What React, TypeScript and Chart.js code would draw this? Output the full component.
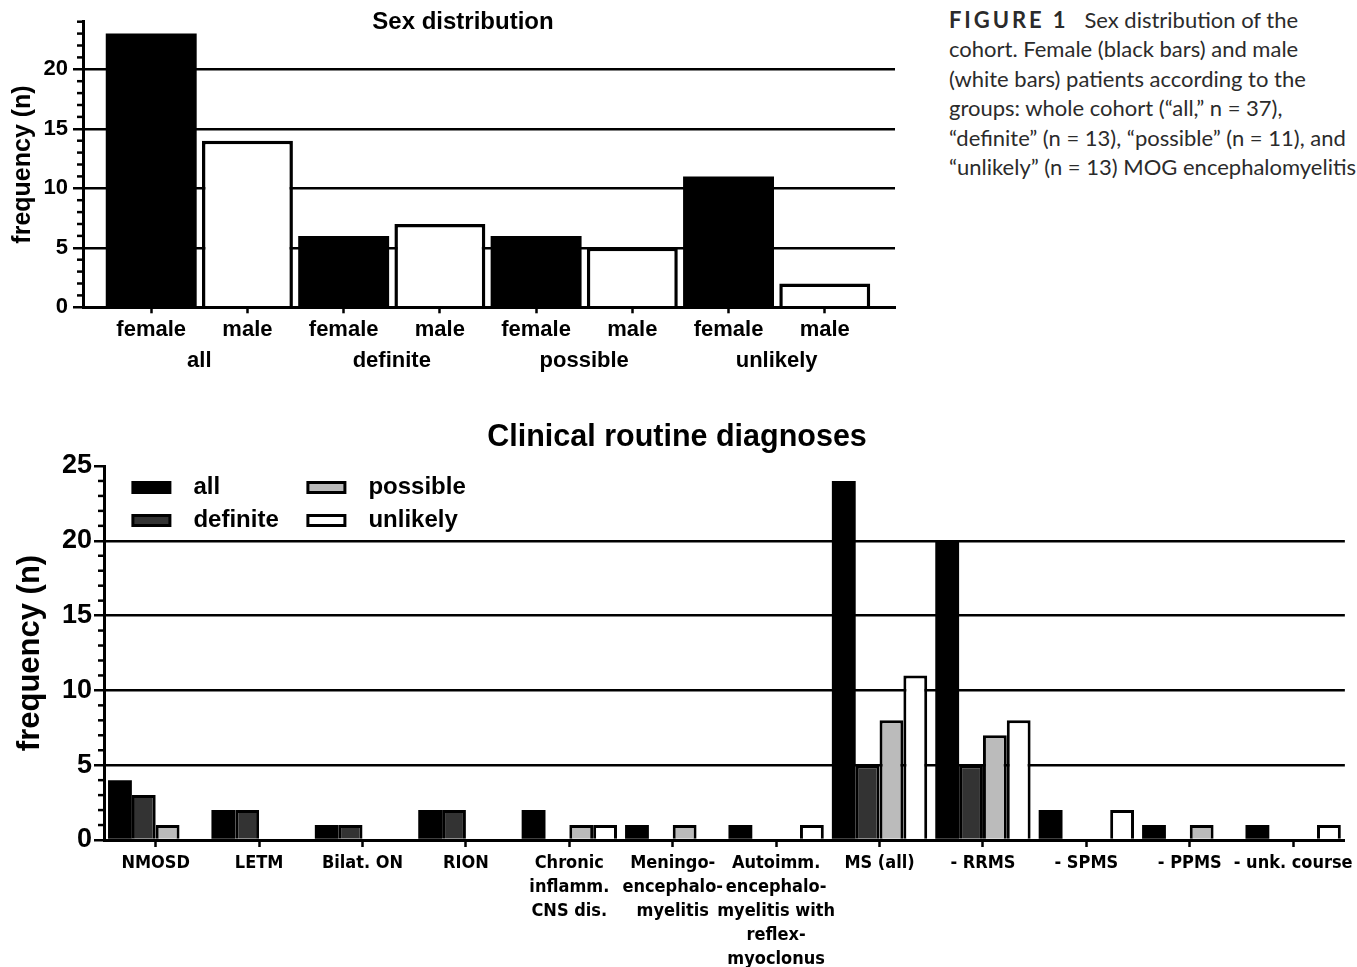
import React, { useEffect, useRef } from 'react';
import { Chart, registerables } from 'chart.js';

Chart.register(...registerables);

// ---------- data: top chart ----------
const sexGroups = ['all', 'definite', 'possible', 'unlikely'];
const sexLabels = ['female', 'male'];
const femaleCounts = [23, 6, 6, 11];
const maleCounts = [14, 7, 5, 2];

// ---------- data: bottom chart ----------
const diagnosisLabels: (string | string[])[] = [
  'NMOSD',
  'LETM',
  'Bilat. ON',
  'RION',
  ['Chronic', 'inflamm.', 'CNS dis.'],
  ['Meningo-', 'encephalo-', 'myelitis'],
  ['Autoimm.', 'encephalo-', 'myelitis with', 'reflex-', 'myoclonus'],
  'MS (all)',
  '- RRMS',
  '- SPMS',
  '- PPMS',
  '- unk. course',
];
const diagSeriesNames = ['all', 'definite', 'possible', 'unlikely'];
const diagAll = [4, 2, 1, 2, 2, 1, 1, 24, 20, 2, 1, 1];
const diagDefinite = [3, 2, 1, 2, 0, 0, 0, 5, 5, 0, 0, 0];
const diagPossible = [1, 0, 0, 0, 1, 1, 0, 8, 7, 0, 1, 0];
const diagUnlikely = [0, 0, 0, 0, 1, 0, 1, 11, 8, 2, 0, 1];
const diagSeries = [diagAll, diagDefinite, diagPossible, diagUnlikely];
const diagColors = ['#000000', '#333333', '#bbbbbb', '#ffffff'];
const diagBorderWidths = [0, 3, 3, 3];

const SANS = "'Liberation Sans', Arial, Helvetica, sans-serif";
const NARROW = "'DejaVu Sans Condensed', 'Liberation Sans Narrow', sans-serif";

const minorTicks = {
  id: 'minorTicks',
  afterDraw(chart: any, _args: any, opts: any) {
    const s = chart.scales.y;
    const ctx = chart.ctx;
    ctx.save();
    ctx.strokeStyle = '#000';
    ctx.lineWidth = opts.width || 2.5;
    for (let v = s.min; v <= s.max; v += 1) {
      if (v % 5 === 0) continue;
      const y = s.getPixelForValue(v);
      ctx.beginPath();
      ctx.moveTo(s.right - (opts.length || 6), y);
      ctx.lineTo(s.right, y);
      ctx.stroke();
    }
    ctx.restore();
  },
};

const gridLegend = {
  id: 'gridLegend',
  afterDatasetsDraw(chart: any, _args: any, opts: any) {
    if (!opts || !opts.display) return;
    const { ctx, chartArea } = chart;
    ctx.save();
    chart.data.datasets.forEach((ds: any, i: number) => {
      const col = Math.floor(i / opts.rows);
      const row = i % opts.rows;
      const bx = chartArea.left + opts.colX[col];
      const cy = chartArea.top + opts.rowY[row];
      const bw = opts.border;
      ctx.fillStyle = '#000';
      ctx.fillRect(bx, cy - opts.boxH / 2, opts.boxW, opts.boxH);
      ctx.fillStyle = ds.backgroundColor;
      ctx.fillRect(bx + bw, cy - opts.boxH / 2 + bw, opts.boxW - 2 * bw, opts.boxH - 2 * bw);
      ctx.font = opts.font;
      ctx.textBaseline = 'middle';
      ctx.textAlign = 'left';
      ctx.fillStyle = '#000';
      ctx.fillText(ds.label, bx + opts.textGap, cy);
    });
    ctx.restore();
  },
};

function SexChart() {
  const ref = useRef<HTMLCanvasElement>(null);
  useEffect(() => {
    if (!ref.current) return;
    const xMin = -0.709;
    const xMax = 7.73;
    const chart = new Chart(ref.current, {
      type: 'bar',
      data: {
        datasets: [
          {
            label: 'female',
            data: femaleCounts.map((v, g) => ({ x: 2 * g, y: v })),
            backgroundColor: '#000',
            borderColor: '#000',
            borderWidth: 0,
            grouped: false,
            categoryPercentage: 1,
            barPercentage: 0.945,
            xAxisID: 'x',
            yAxisID: 'y',
          } as any,
          {
            label: 'male',
            data: maleCounts.map((v, g) => ({ x: 2 * g + 1, y: v })),
            backgroundColor: '#fff',
            borderColor: '#000',
            borderWidth: 3.5,
            grouped: false,
            categoryPercentage: 1,
            barPercentage: 0.945,
            xAxisID: 'x',
            yAxisID: 'y',
          } as any,
        ],
      },
      options: {
        animation: false,
        responsive: false,
        layout: { padding: { left: 31, right: 31, top: 0, bottom: 3.7 } },
        plugins: {
          legend: { display: false },
          tooltip: { enabled: false },
          title: {
            display: true,
            text: 'Sex distribution',
            color: '#000',
            font: { family: SANS, size: 24, weight: 'bold' },
            padding: { top: 8, bottom: -15.1 },
          },
          minorTicks: { length: 6, width: 2.5 },
        } as any,
        scales: {
          x: {
            type: 'linear',
            axis: 'x',
            position: 'bottom',
            offset: false,
            min: xMin,
            max: xMax,
            afterBuildTicks: (s: any) => {
              s.ticks = [0, 1, 2, 3, 4, 5, 6, 7].map((v) => ({ value: v }));
            },
            afterFit: (s: any) => {
              s.height = 38;
            },
            ticks: {
              callback: (_v: any, i: number) => sexLabels[i % 2],
              color: '#000',
              font: { family: SANS, size: 22, weight: 'bold' },
              padding: 3.5,
              autoSkip: false,
              maxRotation: 0,
              minRotation: 0,
            },
            grid: {
              offset: false,
              drawOnChartArea: false,
              tickLength: 6,
              tickWidth: 2.5,
              tickColor: '#000',
            },
            border: { color: '#000', width: 3 },
          },
          x2: {
            type: 'linear',
            axis: 'x',
            position: 'bottom',
            offset: false,
            min: xMin,
            max: xMax,
            afterBuildTicks: (s: any) => {
              s.ticks = sexGroups.map((_g, g) => ({ value: 2 * g + 0.5 }));
            },
            afterFit: (s: any) => {
              s.height = 36;
            },
            ticks: {
              callback: (_v: any, i: number) => sexGroups[i],
              color: '#000',
              font: { family: SANS, size: 22, weight: 'bold' },
              padding: 2.5,
              autoSkip: false,
              maxRotation: 0,
              minRotation: 0,
            },
            grid: { display: false, drawTicks: false },
            border: { display: false },
          },
          y: {
            type: 'linear',
            min: 0,
            max: 24,
            afterFit: (s: any) => {
              s.width = 52;
            },
            ticks: {
              stepSize: 1,
              autoSkip: false,
              callback: (v: any) => (v % 5 === 0 ? String(v) : ''),
              color: '#000',
              font: { family: SANS, size: 22, weight: 'bold' },
              padding: 5,
            },
            grid: {
              color: (c: any) => (c.tick && c.tick.value % 5 === 0 && c.tick.value > 0 ? '#000' : 'rgba(0,0,0,0)'),
              lineWidth: 2.5,
              tickLength: 10,
              tickWidth: 2.5,
              tickColor: (c: any) => (c.tick && c.tick.value % 5 === 0 ? '#000' : 'rgba(0,0,0,0)'),
            },
            border: { color: '#000', width: 3 },
            title: {
              display: true,
              text: 'frequency (n)',
              color: '#000',
              font: { family: SANS, size: 25, weight: 'bold' },
              padding: { top: -23, bottom: 0 },
            },
          },
        } as any,
      },
      plugins: [minorTicks],
    });
    return () => chart.destroy();
  }, []);
  return <canvas ref={ref} width={926} height={385} style={{ display: 'block', width: 926, height: 385 }} />;
}

function DiagnosisChart() {
  const ref = useRef<HTMLCanvasElement>(null);
  useEffect(() => {
    if (!ref.current) return;
    const chart = new Chart(ref.current, {
      type: 'bar',
      data: {
        labels: diagnosisLabels as any,
        datasets: diagSeriesNames.map((name, i) => ({
          label: name,
          data: diagSeries[i],
          backgroundColor: diagColors[i],
          borderColor: '#000',
          borderWidth: diagBorderWidths[i],
          categoryPercentage: 0.922,
          barPercentage: 1,
        })),
      },
      options: {
        animation: false,
        responsive: false,
        layout: { padding: { left: 7, right: 10, top: 0, bottom: 0 } },
        plugins: {
          legend: { display: false },
          tooltip: { enabled: false },
          title: {
            display: true,
            text: 'Clinical routine diagnoses',
            color: '#000',
            font: { family: SANS, size: 30.5, weight: 'bold' },
            padding: { top: 19, bottom: 10.4 },
          },
          minorTicks: { length: 6, width: 2.5 },
          gridLegend: {
            display: true,
            rows: 2,
            colX: [27.4, 202.4],
            rowY: [21.5, 54.5],
            boxW: 40,
            boxH: 13,
            border: 3,
            textGap: 62,
            font: `bold 24px ${SANS}`,
          },
        } as any,
        scales: {
          x: {
            afterFit: (s: any) => {
              s.height = 127;
            },
            ticks: {
              color: '#000',
              font: { family: NARROW, size: 18, weight: 'bold', lineHeight: 1.333 },
              padding: 4,
              autoSkip: false,
              maxRotation: 0,
              minRotation: 0,
            },
            grid: {
              offset: false,
              drawOnChartArea: false,
              tickLength: 7,
              tickWidth: 2.5,
              tickColor: '#000',
            },
            border: { color: '#000', width: 3 },
          },
          y: {
            type: 'linear',
            min: 0,
            max: 25,
            afterFit: (s: any) => {
              s.width = 97;
            },
            ticks: {
              stepSize: 1,
              autoSkip: false,
              callback: (v: any) => (v % 5 === 0 ? String(v) : ''),
              color: '#000',
              font: { family: SANS, size: 27, weight: 'bold' },
              padding: 2,
            },
            grid: {
              color: (c: any) =>
                c.tick && c.tick.value % 5 === 0 && c.tick.value > 0 && c.tick.value < 25 ? '#000' : 'rgba(0,0,0,0)',
              lineWidth: 2.5,
              tickLength: 10,
              tickWidth: 2.5,
              tickColor: (c: any) => (c.tick && c.tick.value % 5 === 0 ? '#000' : 'rgba(0,0,0,0)'),
            },
            border: { color: '#000', width: 3 },
            title: {
              display: true,
              text: 'frequency (n)',
              color: '#000',
              font: { family: SANS, size: 31, weight: 'bold' },
              padding: { top: 4.4, bottom: 0 },
            },
          },
        } as any,
      },
      plugins: [minorTicks, gridLegend],
    });
    return () => chart.destroy();
  }, []);
  return <canvas ref={ref} width={1357} height={567} style={{ display: 'block', width: 1357, height: 567 }} />;
}

export default function App() {
  return (
    <div style={{ position: 'fixed', left: 0, top: 0, width: 1357, height: 967, background: '#fff', overflow: 'hidden' }}>
      <div style={{ position: 'absolute', left: 0, top: 0 }}>
        <SexChart />
      </div>
      <div
        style={{
          position: 'absolute',
          left: 949,
          top: 5,
          width: 408,
          fontFamily: "Lato, 'Open Sans', sans-serif",
          fontSize: 22,
          lineHeight: '29.4px',
          color: '#2b2b2b',
          whiteSpace: 'nowrap',
        }}
      >
        <span style={{ fontWeight: 700, letterSpacing: '2.9px', marginRight: 16 }}>FIGURE 1</span>
        Sex distribution of the
        <br />
        cohort. Female (black bars) and male
        <br />
        (white bars) patients according to the
        <br />
        groups: whole cohort (“all,” n = 37),
        <br />
        “definite” (n = 13), “possible” (n = 11), and
        <br />
        “unlikely” (n = 13) MOG encephalomyelitis
      </div>
      <div style={{ position: 'absolute', left: 0, top: 400 }}>
        <DiagnosisChart />
      </div>
    </div>
  );
}
